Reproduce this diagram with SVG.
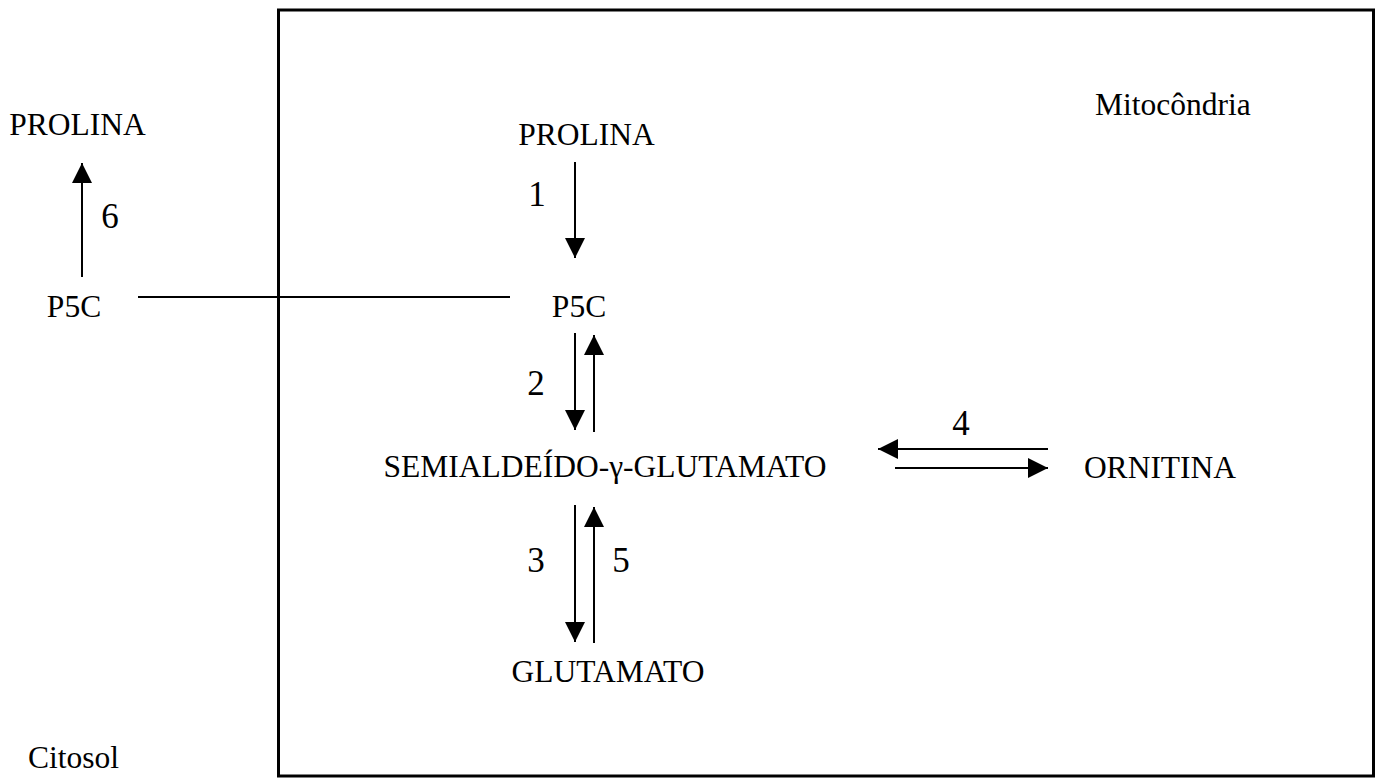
<svg xmlns="http://www.w3.org/2000/svg" width="1383" height="778" viewBox="0 0 1383 778">
<style>
.t{font-family:"Liberation Serif","Times New Roman",serif;font-size:31.5px;fill:#000}
.n{font-family:"Liberation Serif","Times New Roman",serif;font-size:35px;fill:#000}
.c{stroke:#000;stroke-width:2;fill:none}
.a{marker-end:url(#ah)}
</style>
<defs>
<marker id="ah" viewBox="0 0 20 20" refX="20" refY="10" markerWidth="20" markerHeight="20" markerUnits="userSpaceOnUse" orient="auto">
<path d="M0,0 L20,10 L0,20 Z" fill="#000"/>
</marker>
</defs>
<rect width="1383" height="778" fill="#fff"/>
<g id="mitocondria">
<rect x="278.5" y="10" width="1095" height="766" fill="none" stroke="#000" stroke-width="3"/>
<text class="t" x="1095" y="115">Mitocôndria</text>
</g>
<g id="citosol"><text class="t" x="28" y="768">Citosol</text></g>
<g id="prolina-mito"><text class="t" x="586.5" y="145" text-anchor="middle">PROLINA</text></g>
<g id="p5c-mito"><text class="t" x="579" y="317" text-anchor="middle">P5C</text></g>
<g id="semialdeido"><text class="t" x="605" y="477" text-anchor="middle">SEMIALDEÍDO-γ-GLUTAMATO</text></g>
<g id="glutamato"><text class="t" x="608" y="682" text-anchor="middle">GLUTAMATO</text></g>
<g id="ornitina"><text class="t" x="1160" y="478" text-anchor="middle">ORNITINA</text></g>
<g id="prolina-cito"><text class="t" x="77.5" y="135" text-anchor="middle">PROLINA</text></g>
<g id="p5c-cito"><text class="t" x="74" y="317" text-anchor="middle">P5C</text></g>
<g id="connectors">
<line class="c a" x1="575" y1="162" x2="575" y2="258"/>
<line class="c a" x1="575" y1="333" x2="575" y2="430"/>
<line class="c a" x1="594" y1="432" x2="594" y2="335"/>
<line class="c a" x1="575" y1="505" x2="575" y2="642"/>
<line class="c a" x1="594" y1="643" x2="594" y2="507"/>
<line class="c a" x1="1048" y1="449" x2="878" y2="449"/>
<line class="c a" x1="895" y1="468" x2="1048" y2="468"/>
<line class="c a" x1="82" y1="277" x2="82" y2="163"/>
<line class="c" x1="138" y1="297" x2="510" y2="297"/>
</g>
<g id="labels">
<text class="n" x="537" y="206" text-anchor="middle">1</text>
<text class="n" x="536" y="395" text-anchor="middle">2</text>
<text class="n" x="536" y="572" text-anchor="middle">3</text>
<text class="n" x="621" y="572" text-anchor="middle">5</text>
<text class="n" x="961" y="435" text-anchor="middle">4</text>
<text class="n" x="110" y="228" text-anchor="middle">6</text>
</g>
</svg>
